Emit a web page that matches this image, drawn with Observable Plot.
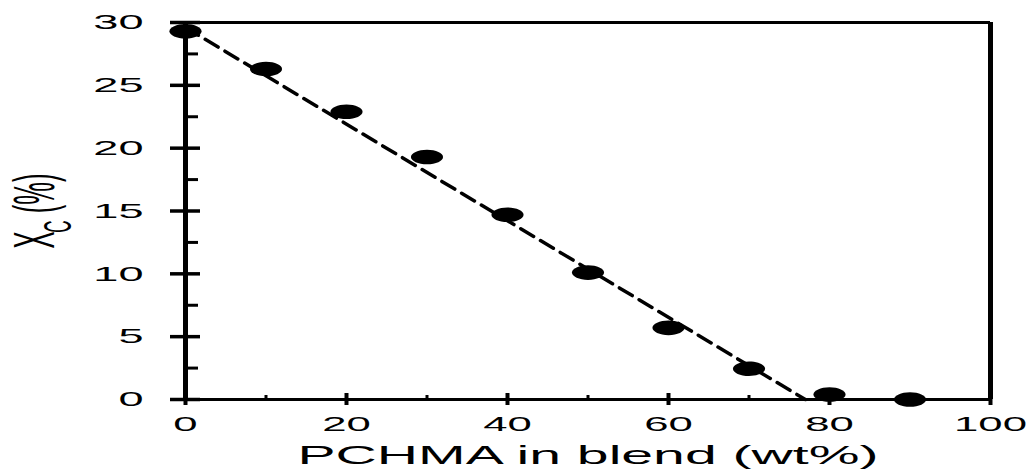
<!DOCTYPE html>
<html><head><meta charset="utf-8">
<script src="https://cdn.jsdelivr.net/npm/d3@7"></script>
<script src="https://cdn.jsdelivr.net/npm/@observablehq/plot@0.6"></script>
<style>body{margin:0;background:#fff}</style>
</head><body><div id="chart"></div>
<script>
// data
const pchma = [0, 10, 20, 30, 40, 50, 60, 70, 80, 90];
const xc = [29.3, 26.3, 22.9, 19.3, 14.7, 10.1, 5.7, 2.45, 0.4, 0];
const fitX = [0, 77];
const fitY = [29.6, 0];
const xDomain = [0, 100];
const yDomain = [0, 30];
const xMajor = [0, 20, 40, 60, 80, 100];
const xMinor = [10, 30, 50, 70, 90];
const yMajor = [0, 5, 10, 15, 20, 25, 30];
const yMinor = [2.5, 7.5, 12.5, 17.5, 22.5, 27.5];
const xTitle = "PCHMA in blend (wt%)";
const yTitleMain = "X", yTitleSub = "C", yTitleUnit = " (%)";

const points = pchma.map((x, i) => ({x, y: xc[i]}));
const fit = fitX.map((x, i) => ({x, y: fitY[i]}));

const K = 0.5523;
const ellipse = {
  draw(ctx, size) {
    const r = Math.sqrt(size / Math.PI);
    const rx = r * 2.2, ry = r;
    ctx.moveTo(rx, 0);
    ctx.bezierCurveTo(rx, K * ry, K * rx, ry, 0, ry);
    ctx.bezierCurveTo(-K * rx, ry, -rx, K * ry, -rx, 0);
    ctx.bezierCurveTo(-rx, -K * ry, -K * rx, -ry, 0, -ry);
    ctx.bezierCurveTo(K * rx, -ry, rx, -K * ry, rx, 0);
    ctx.closePath();
  }
};

const font = "'Liberation Sans', Arial, Helvetica, sans-serif";

const svg = Plot.plot({
  width: 1034,
  height: 470,
  marginTop: 22,
  marginRight: 44,
  marginBottom: 71,
  marginLeft: 185,
  style: {background: "white", color: "black", fontFamily: font},
  x: {domain: xDomain},
  y: {domain: yDomain},
  marks: [
    Plot.ruleY([yDomain[0]], {stroke: "black", strokeWidth: 3}),
    Plot.ruleY([yDomain[1]], {stroke: "black", strokeWidth: 3}),
    Plot.ruleX([xDomain[0]], {stroke: "black", strokeWidth: 5}),
    Plot.ruleX([xDomain[1]], {stroke: "black", strokeWidth: 5}),
    Plot.axisY({anchor: "left", ticks: yMajor, tickSize: 30, dx: 15, strokeWidth: 3.5, fill: "none", label: null}),
    Plot.axisY({anchor: "left", ticks: yMinor, tickSize: 13, dx: 13, strokeWidth: 3, fill: "none", label: null}),
    Plot.axisX({anchor: "bottom", ticks: xMajor, tickSize: 12, dy: -6, strokeWidth: 4, fill: "none", label: null}),
    Plot.axisX({anchor: "bottom", ticks: xMinor, tickSize: 4, dy: -4, strokeWidth: 3, fill: "none", label: null}),
    Plot.axisY({anchor: "left", ticks: yMajor, tickSize: 0, tickPadding: 42, fontSize: 21, fill: "black", label: null}),
    Plot.axisX({anchor: "bottom", ticks: xMajor, tickSize: 0, tickPadding: 17, fontSize: 21, fill: "black", label: null}),
    Plot.line(fit, {x: "x", y: "y", stroke: "black", strokeWidth: 3.5, strokeDasharray: "15,8"}),
    Plot.dot(points, {x: "x", y: "y", symbol: ellipse, r: 7.3, fill: "black", stroke: "none"}),
    Plot.text([xTitle], {frameAnchor: "bottom", text: d => d, dy: 64, lineAnchor: "bottom", textAnchor: "middle", fontSize: 25, fill: "black"}),
    Plot.text([yTitleMain], {frameAnchor: "left", text: d => d, rotate: -90, dx: -132, lineAnchor: "bottom", textAnchor: "middle", fontSize: 57, fill: "black"})
  ]
});
document.getElementById("chart").appendChild(svg);

// horizontal stretch of the text, as in the reference
function setLen(t, len) {
  t.setAttribute("textLength", len.toFixed(1));
  t.setAttribute("lengthAdjust", "spacingAndGlyphs");
}
const ytickLabels = new Set(yMajor.map(String));
const xtickLabels = new Set(xMajor.map(String));
const ns = "http://www.w3.org/2000/svg";
svg.querySelectorAll('g[aria-label="y-axis tick label"] text').forEach(t => setLen(t, t.getComputedTextLength() * 2.15));
svg.querySelectorAll('g[aria-label="x-axis tick label"] text').forEach(t => setLen(t, t.getComputedTextLength() * 2.08));
svg.querySelectorAll("text").forEach(t => {
  if (t.textContent === xTitle) setLen(t, 581);
  else if (t.textContent === yTitleMain) {
    const s1 = document.createElementNS(ns, "tspan");
    s1.textContent = yTitleSub;
    s1.setAttribute("font-size", "38");
    s1.setAttribute("dy", "17");
    s1.setAttribute("dx", "-3");
    const s2 = document.createElementNS(ns, "tspan");
    s2.textContent = yTitleUnit;
    s2.setAttribute("dy", "-17");
    t.append(s1, s2);
    setLen(t, 75);
  }
});
</script>
</body></html>
